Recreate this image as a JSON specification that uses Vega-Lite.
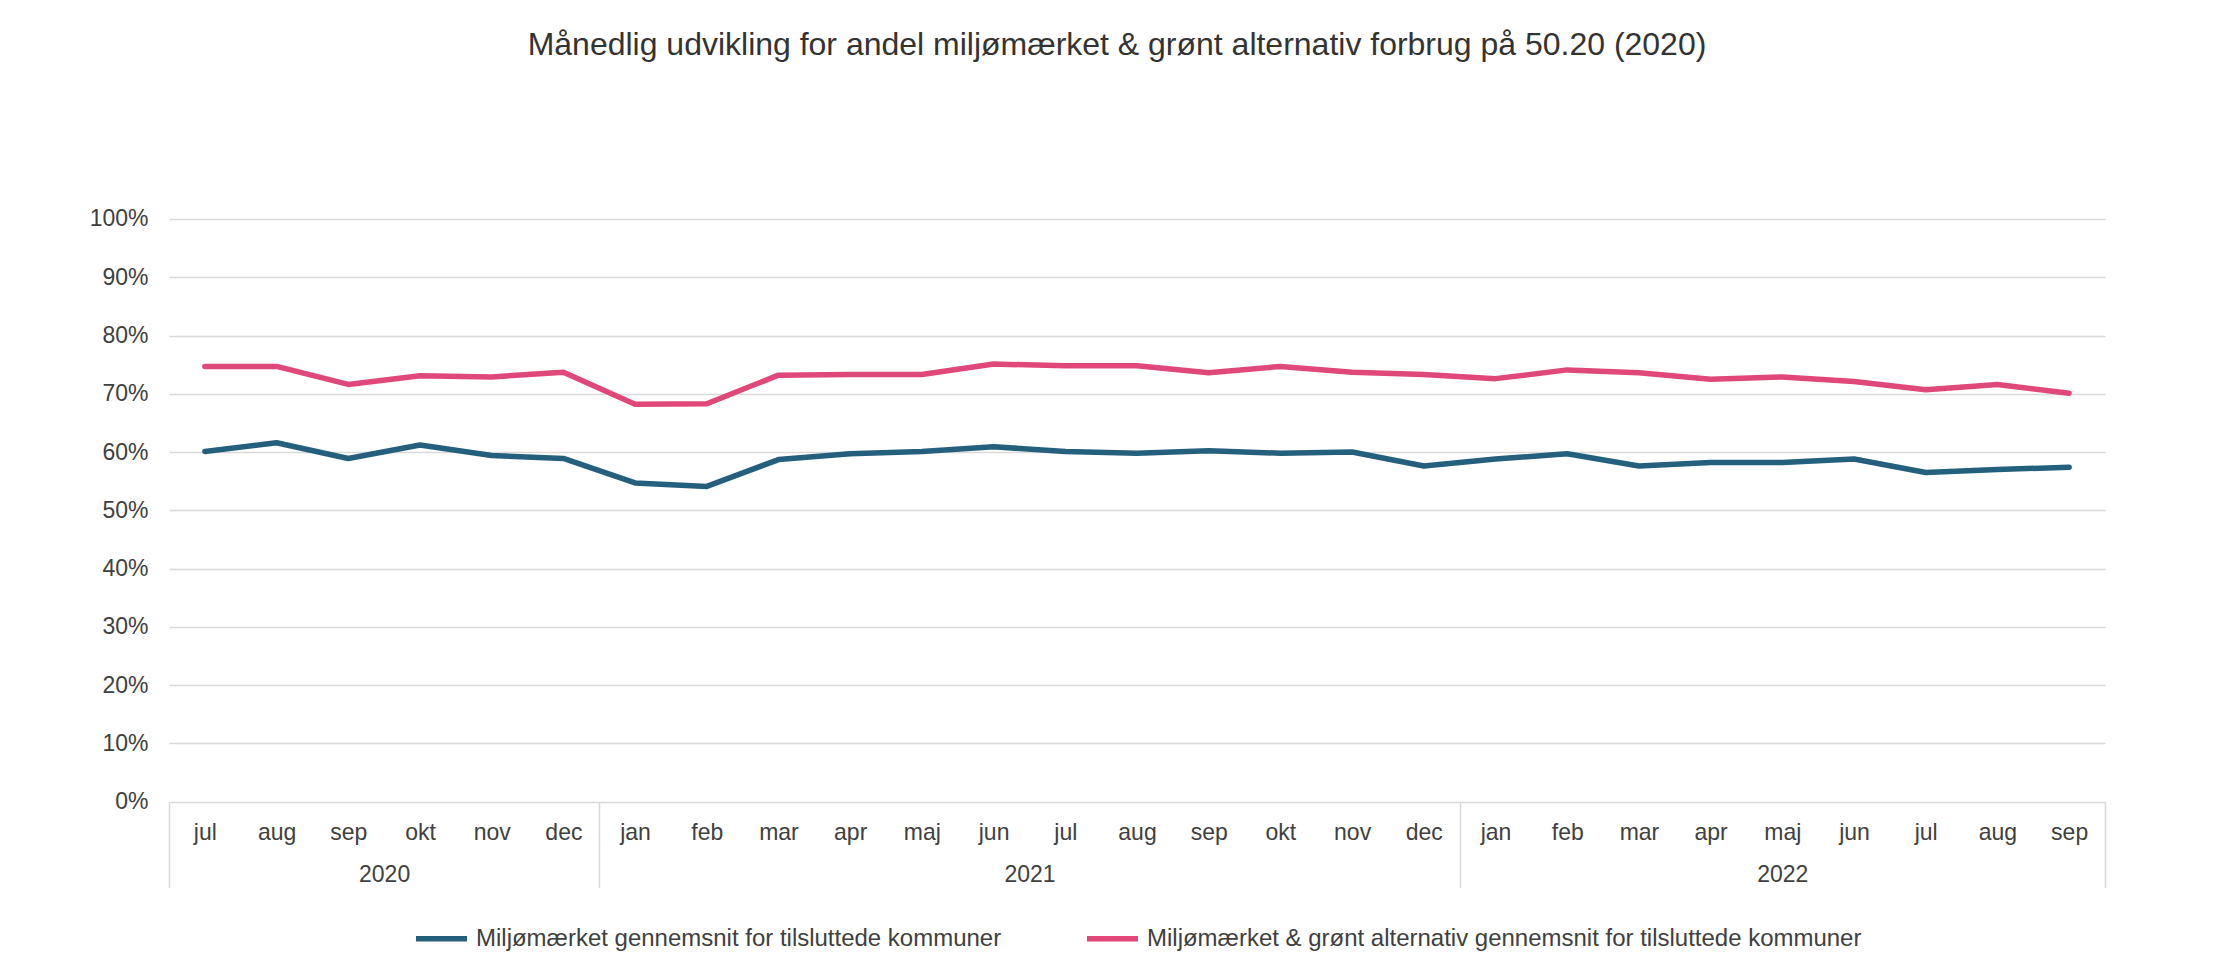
{
  "$schema": "https://vega.github.io/schema/vega-lite/v6.json",
  "width": 1936,
  "height": 582.6,
  "autosize": {"type": "none"},
  "padding": {"left": 169, "top": 219, "right": 128, "bottom": 169},
  "background": "white",
  "title": {
    "text": "Månedlig udvikling for andel miljømærket & grønt alternativ forbrug på 50.20 (2020)",
    "fontSize": 32,
    "font": "Liberation Sans",
    "fontWeight": "normal",
    "color": "#333333",
    "anchor": "middle",
    "offset": 146,
    "dx": -20
  },
  "data": {
    "values": [
      {"t": 0, "month": "jul", "year": 2020, "series": "Miljømærket gennemsnit for tilsluttede kommuner", "value": 0.601},
      {"t": 1, "month": "aug", "year": 2020, "series": "Miljømærket gennemsnit for tilsluttede kommuner", "value": 0.616},
      {"t": 2, "month": "sep", "year": 2020, "series": "Miljømærket gennemsnit for tilsluttede kommuner", "value": 0.589},
      {"t": 3, "month": "okt", "year": 2020, "series": "Miljømærket gennemsnit for tilsluttede kommuner", "value": 0.612},
      {"t": 4, "month": "nov", "year": 2020, "series": "Miljømærket gennemsnit for tilsluttede kommuner", "value": 0.594},
      {"t": 5, "month": "dec", "year": 2020, "series": "Miljømærket gennemsnit for tilsluttede kommuner", "value": 0.589},
      {"t": 6, "month": "jan", "year": 2021, "series": "Miljømærket gennemsnit for tilsluttede kommuner", "value": 0.547},
      {"t": 7, "month": "feb", "year": 2021, "series": "Miljømærket gennemsnit for tilsluttede kommuner", "value": 0.541},
      {"t": 8, "month": "mar", "year": 2021, "series": "Miljømærket gennemsnit for tilsluttede kommuner", "value": 0.587},
      {"t": 9, "month": "apr", "year": 2021, "series": "Miljømærket gennemsnit for tilsluttede kommuner", "value": 0.597},
      {"t": 10, "month": "maj", "year": 2021, "series": "Miljømærket gennemsnit for tilsluttede kommuner", "value": 0.601},
      {"t": 11, "month": "jun", "year": 2021, "series": "Miljømærket gennemsnit for tilsluttede kommuner", "value": 0.609},
      {"t": 12, "month": "jul", "year": 2021, "series": "Miljømærket gennemsnit for tilsluttede kommuner", "value": 0.601},
      {"t": 13, "month": "aug", "year": 2021, "series": "Miljømærket gennemsnit for tilsluttede kommuner", "value": 0.598},
      {"t": 14, "month": "sep", "year": 2021, "series": "Miljømærket gennemsnit for tilsluttede kommuner", "value": 0.602},
      {"t": 15, "month": "okt", "year": 2021, "series": "Miljømærket gennemsnit for tilsluttede kommuner", "value": 0.598},
      {"t": 16, "month": "nov", "year": 2021, "series": "Miljømærket gennemsnit for tilsluttede kommuner", "value": 0.600},
      {"t": 17, "month": "dec", "year": 2021, "series": "Miljømærket gennemsnit for tilsluttede kommuner", "value": 0.576},
      {"t": 18, "month": "jan", "year": 2022, "series": "Miljømærket gennemsnit for tilsluttede kommuner", "value": 0.588},
      {"t": 19, "month": "feb", "year": 2022, "series": "Miljømærket gennemsnit for tilsluttede kommuner", "value": 0.597},
      {"t": 20, "month": "mar", "year": 2022, "series": "Miljømærket gennemsnit for tilsluttede kommuner", "value": 0.576},
      {"t": 21, "month": "apr", "year": 2022, "series": "Miljømærket gennemsnit for tilsluttede kommuner", "value": 0.582},
      {"t": 22, "month": "maj", "year": 2022, "series": "Miljømærket gennemsnit for tilsluttede kommuner", "value": 0.582},
      {"t": 23, "month": "jun", "year": 2022, "series": "Miljømærket gennemsnit for tilsluttede kommuner", "value": 0.588},
      {"t": 24, "month": "jul", "year": 2022, "series": "Miljømærket gennemsnit for tilsluttede kommuner", "value": 0.565},
      {"t": 25, "month": "aug", "year": 2022, "series": "Miljømærket gennemsnit for tilsluttede kommuner", "value": 0.570},
      {"t": 26, "month": "sep", "year": 2022, "series": "Miljømærket gennemsnit for tilsluttede kommuner", "value": 0.574},
      {"t": 0, "month": "jul", "year": 2020, "series": "Miljømærket & grønt alternativ gennemsnit for tilsluttede kommuner", "value": 0.747},
      {"t": 1, "month": "aug", "year": 2020, "series": "Miljømærket & grønt alternativ gennemsnit for tilsluttede kommuner", "value": 0.747},
      {"t": 2, "month": "sep", "year": 2020, "series": "Miljømærket & grønt alternativ gennemsnit for tilsluttede kommuner", "value": 0.716},
      {"t": 3, "month": "okt", "year": 2020, "series": "Miljømærket & grønt alternativ gennemsnit for tilsluttede kommuner", "value": 0.731},
      {"t": 4, "month": "nov", "year": 2020, "series": "Miljømærket & grønt alternativ gennemsnit for tilsluttede kommuner", "value": 0.729},
      {"t": 5, "month": "dec", "year": 2020, "series": "Miljømærket & grønt alternativ gennemsnit for tilsluttede kommuner", "value": 0.737},
      {"t": 6, "month": "jan", "year": 2021, "series": "Miljømærket & grønt alternativ gennemsnit for tilsluttede kommuner", "value": 0.682},
      {"t": 7, "month": "feb", "year": 2021, "series": "Miljømærket & grønt alternativ gennemsnit for tilsluttede kommuner", "value": 0.683},
      {"t": 8, "month": "mar", "year": 2021, "series": "Miljømærket & grønt alternativ gennemsnit for tilsluttede kommuner", "value": 0.732},
      {"t": 9, "month": "apr", "year": 2021, "series": "Miljømærket & grønt alternativ gennemsnit for tilsluttede kommuner", "value": 0.733},
      {"t": 10, "month": "maj", "year": 2021, "series": "Miljømærket & grønt alternativ gennemsnit for tilsluttede kommuner", "value": 0.733},
      {"t": 11, "month": "jun", "year": 2021, "series": "Miljømærket & grønt alternativ gennemsnit for tilsluttede kommuner", "value": 0.751},
      {"t": 12, "month": "jul", "year": 2021, "series": "Miljømærket & grønt alternativ gennemsnit for tilsluttede kommuner", "value": 0.748},
      {"t": 13, "month": "aug", "year": 2021, "series": "Miljømærket & grønt alternativ gennemsnit for tilsluttede kommuner", "value": 0.748},
      {"t": 14, "month": "sep", "year": 2021, "series": "Miljømærket & grønt alternativ gennemsnit for tilsluttede kommuner", "value": 0.736},
      {"t": 15, "month": "okt", "year": 2021, "series": "Miljømærket & grønt alternativ gennemsnit for tilsluttede kommuner", "value": 0.747},
      {"t": 16, "month": "nov", "year": 2021, "series": "Miljømærket & grønt alternativ gennemsnit for tilsluttede kommuner", "value": 0.737},
      {"t": 17, "month": "dec", "year": 2021, "series": "Miljømærket & grønt alternativ gennemsnit for tilsluttede kommuner", "value": 0.733},
      {"t": 18, "month": "jan", "year": 2022, "series": "Miljømærket & grønt alternativ gennemsnit for tilsluttede kommuner", "value": 0.726},
      {"t": 19, "month": "feb", "year": 2022, "series": "Miljømærket & grønt alternativ gennemsnit for tilsluttede kommuner", "value": 0.741},
      {"t": 20, "month": "mar", "year": 2022, "series": "Miljømærket & grønt alternativ gennemsnit for tilsluttede kommuner", "value": 0.736},
      {"t": 21, "month": "apr", "year": 2022, "series": "Miljømærket & grønt alternativ gennemsnit for tilsluttede kommuner", "value": 0.725},
      {"t": 22, "month": "maj", "year": 2022, "series": "Miljømærket & grønt alternativ gennemsnit for tilsluttede kommuner", "value": 0.729},
      {"t": 23, "month": "jun", "year": 2022, "series": "Miljømærket & grønt alternativ gennemsnit for tilsluttede kommuner", "value": 0.721},
      {"t": 24, "month": "jul", "year": 2022, "series": "Miljømærket & grønt alternativ gennemsnit for tilsluttede kommuner", "value": 0.707},
      {"t": 25, "month": "aug", "year": 2022, "series": "Miljømærket & grønt alternativ gennemsnit for tilsluttede kommuner", "value": 0.716},
      {"t": 26, "month": "sep", "year": 2022, "series": "Miljømærket & grønt alternativ gennemsnit for tilsluttede kommuner", "value": 0.701}
    ]
  },
  "layer": [
    {
      "mark": {"type": "line", "strokeWidth": 5.5, "strokeCap": "round", "strokeJoin": "round"},
      "encoding": {
        "x": {
          "field": "t",
          "type": "quantitative",
          "scale": {"domain": [-0.5, 26.5], "nice": false, "zero": false},
          "axis": {
            "orient": "bottom",
            "title": null,
            "values": [0,1,2,3,4,5,6,7,8,9,10,11,12,13,14,15,16,17,18,19,20,21,22,23,24,25,26],
            "labelExpr": "['jul','aug','sep','okt','nov','dec','jan','feb','mar','apr','maj','jun','jul','aug','sep','okt','nov','dec','jan','feb','mar','apr','maj','jun','jul','aug','sep'][datum.value]",
            "ticks": false,
            "domain": false,
            "grid": false,
            "labelPadding": 20,
            "labelFontSize": 23,
            "labelColor": "#404040",
            "labelFont": "Liberation Sans",
            "labelFlush": false,
            "labelOverlap": false,
            "labelBound": false
          }
        },
        "y": {
          "field": "value",
          "type": "quantitative",
          "scale": {"domain": [0, 1], "nice": false},
          "axis": {
            "title": null,
            "values": [0, 0.1, 0.2, 0.3, 0.4, 0.5, 0.6, 0.7, 0.8, 0.9, 1],
            "format": ".0%",
            "ticks": false,
            "domain": false,
            "grid": true,
            "gridColor": "#d9d9d9",
            "gridWidth": 1.5,
            "labelPadding": 21,
            "labelFontSize": 23,
            "labelColor": "#404040",
            "labelFont": "Liberation Sans"
          }
        },
        "color": {
          "field": "series",
          "type": "nominal",
          "scale": {
            "domain": ["Miljømærket gennemsnit for tilsluttede kommuner", "Miljømærket & grønt alternativ gennemsnit for tilsluttede kommuner"],
            "range": ["#24607D", "#E0487A"]
          },
          "legend": {
            "title": null,
            "orient": "bottom",
            "direction": "horizontal",
            "symbolType": "stroke",
            "symbolSize": 2600,
            "symbolStrokeWidth": 5.5,
            "labelFontSize": 24,
            "labelColor": "#404040",
            "labelFont": "Liberation Sans",
            "labelOffset": 6,
            "columnPadding": 74,
            "labelLimit": 1200,
            "offset": 21
          }
        }
      }
    },
    {
      "mark": {"type": "point", "opacity": 0},
      "encoding": {
        "x": {
          "field": "t",
          "type": "quantitative",
          "axis": {
            "orient": "bottom",
            "title": null,
            "values": [2.5, 11.5, 22],
            "labelExpr": "datum.value < 5 ? '2020' : datum.value < 15 ? '2021' : '2022'",
            "ticks": false,
            "domain": false,
            "grid": false,
            "labelPadding": 62,
            "labelFontSize": 23,
            "labelColor": "#404040",
            "labelFont": "Liberation Sans",
            "labelFlush": false,
            "labelOverlap": false,
            "labelBound": false
          }
        }
      }
    },
    {
      "mark": {"type": "point", "opacity": 0},
      "encoding": {
        "x": {
          "field": "t",
          "type": "quantitative",
          "axis": {
            "orient": "bottom",
            "title": null,
            "values": [-0.5, 5.5, 17.5, 26.5],
            "labels": false,
            "ticks": true,
            "tickSize": 86,
            "tickColor": "#d9d9d9",
            "tickWidth": 1.5,
            "domain": false,
            "grid": false
          }
        }
      }
    }
  ],
  "resolve": {"axis": {"x": "independent"}},
  "config": {
    "font": "Liberation Sans",
    "view": {"stroke": null},
    "legend": {"layout": {"bottom": {"anchor": "middle"}}}
  }
}
